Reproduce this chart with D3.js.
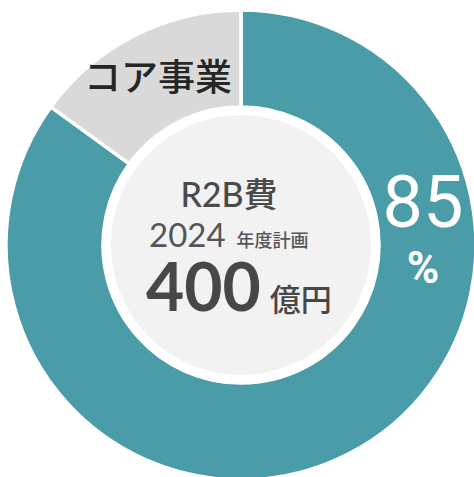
<!DOCTYPE html>
<html>
<head>
<meta charset="utf-8">
<script src="https://cdn.jsdelivr.net/npm/d3@7"></script>
<style>
  body { margin: 0; background: #fff; }
  svg { display: block; }
</style>
</head>
<body>
<svg width="474" height="477"></svg>
<script>
// share of R2B spend vs core business
var segments = ["R2B", "コア事業"];
var shares = [85, 15];
var colors = ["#4a9ca8", "#d9d9d9"];

var svg = d3.select("svg");
var cx = 241, cy = 245;
var outerR = 235, innerR = 138, centerR = 130;

var pie = d3.pie().sort(null).value(function(d) { return d; });
var arc = d3.arc().innerRadius(innerR).outerRadius(outerR);

var g = svg.append("g").attr("transform", "translate(" + cx + "," + cy + ")");

g.selectAll(".slice")
    .data(pie(shares))
  .enter().append("path")
    .attr("class", "slice")
    .attr("d", arc)
    .attr("fill", function(d, i) { return colors[i]; })
    .attr("stroke", "#fff")
    .attr("stroke-width", 3.5);

// inner gray disc
g.append("circle")
    .attr("r", centerR)
    .attr("fill", "#f2f2f2");

// label on the small slice
svg.append("text")
    .attr("x", 158).attr("y", 91)
    .attr("text-anchor", "middle")
    .attr("font-family", "'Noto Sans CJK JP', sans-serif")
    .attr("font-size", 37)
    .attr("font-weight", 500)
    .attr("fill", "#262626")
    .text(segments[1]);

// percentage on the big slice
svg.append("text")
    .attr("x", 423).attr("y", 227)
    .attr("text-anchor", "middle")
    .attr("font-family", "Roboto, sans-serif")
    .attr("font-size", 72)
    .attr("fill", "#fff")
    .text(shares[0]);

svg.append("text")
    .attr("x", 423).attr("y", 283)
    .attr("text-anchor", "middle")
    .attr("font-family", "Roboto, sans-serif")
    .attr("font-size", 44)
    .attr("font-weight", 700)
    .attr("fill", "#fff")
    .text("%");

// center texts
var cjk = "Lato, 'Noto Sans CJK JP', sans-serif";

svg.append("text")
    .attr("x", 229).attr("y", 207)
    .attr("text-anchor", "middle")
    .attr("font-family", cjk)
    .attr("font-size", 34)
    .attr("font-weight", 500)
    .attr("fill", "#4a4a4a")
    .text("R2B費");

var line2 = svg.append("text")
    .attr("x", 149).attr("y", 247)
    .attr("font-family", cjk)
    .attr("fill", "#555");
line2.append("tspan").attr("font-size", 33).attr("font-weight", 400).text("2024");
line2.append("tspan").attr("font-size", 18).attr("dx", 11).attr("font-weight", 500).attr("font-family", "'Noto Sans CJK JP', sans-serif").text("年度計画");

var line3 = svg.append("text")
    .attr("x", 146).attr("y", 311)
    .attr("font-family", cjk)
    .attr("fill", "#474747");
line3.append("tspan").attr("font-size", 66).attr("font-weight", 700).text("400");
line3.append("tspan").attr("font-size", 31).attr("dx", 9).attr("font-weight", 500).attr("font-family", "'Noto Sans CJK JP', sans-serif").text("億円");
</script>
</body>
</html>
